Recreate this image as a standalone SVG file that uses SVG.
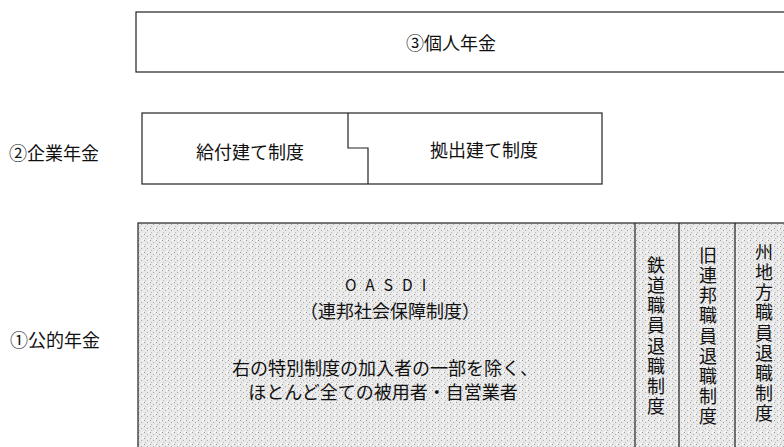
<svg xmlns="http://www.w3.org/2000/svg" width="784" height="447" viewBox="0 0 784 447">
<style>
text{font-family:"Noto Sans CJK JP","Noto Sans",sans-serif;fill:#111;font-size:18px}
.box{fill:#fff;stroke:#222;stroke-width:1.2}
.ln{fill:none;stroke:#222;stroke-width:1.2}
.c{text-anchor:middle}
.v{writing-mode:vertical-rl;text-orientation:upright;font-size:18px;letter-spacing:2.2px}
</style>
<defs>
<pattern id="dots" width="6" height="6" patternUnits="userSpaceOnUse">
<rect width="6" height="6" fill="#e9e9e9"/>
<rect x="0" y="0" width="1" height="1" fill="#999"/>
<rect x="3" y="2" width="1" height="1" fill="#aaa"/>
<rect x="1" y="4" width="1" height="1" fill="#bbb"/>
<rect x="5" y="5" width="1" height="1" fill="#fff"/>
<rect x="4" y="0" width="1" height="1" fill="#fff"/>
</pattern>
</defs>
<g id="kojin">
<rect class="box" x="136" y="12" width="660" height="60"/>
<text class="c" x="451" y="50">③個人年金</text>
</g>
<g id="kigyo-label"><text x="9" y="160">②企業年金</text></g>
<g id="kigyo">
<rect class="box" x="142" y="113" width="460" height="71"/>
<text class="c" x="250" y="159">給付建て制度</text>
<text class="c" x="484" y="157">拠出建て制度</text>
</g>
<g id="koteki-label"><text x="10" y="347">①公的年金</text></g>
<g id="koteki">
<rect x="138" y="223" width="660" height="240" fill="url(#dots)" stroke="#222" stroke-width="1.2"/>
<text x="345" y="291" style="font-size:15.5px;letter-spacing:9px">OASDI</text>
<text class="c" x="390" y="318">（連邦社会保障制度）</text>
<text class="c" x="385" y="375">右の特別制度の加入者の一部を除く、</text>
<text class="c" x="383" y="399">ほとんど全ての被用者・自営業者</text>
</g>
<g id="tetsudo"><text class="v" x="656" y="256">鉄道職員退職制度</text></g>
<g id="renpo"><text class="v" x="708" y="246">旧連邦職員退職制度</text></g>
<g id="shu"><text class="v" x="764" y="243">州地方職員退職制度</text></g>
<g id="connectors">
<path class="ln" d="M348 113 V148 H368 V184"/>
<path class="ln" d="M635 223 V447 M679 223 V447 M735 223 V447"/>
</g>
</svg>
